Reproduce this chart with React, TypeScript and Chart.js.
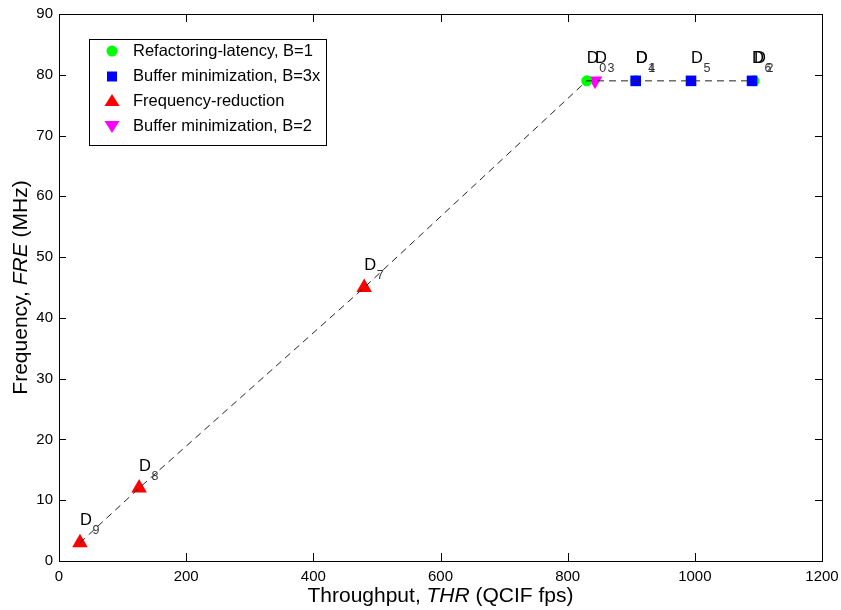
import React, { useEffect, useRef } from 'react';
import { Chart, registerables } from 'chart.js';

Chart.register(...registerables);

// Dashed trade-off curve through all design points (throughput in QCIF fps, frequency in MHz)
const pathThr = [33, 126, 480, 830, 843, 907, 994, 1090];
const pathFreq = [3, 12, 45, 79, 79, 79, 79, 79];

// Refactoring-latency, B=1
const refactorThr = [830, 907, 1093];
const refactorFreq = [79, 79, 79];
const refactorIds = ['0', '1', '2'];

// Buffer minimization, B=3x
const bufferThr = [907, 994, 1090];
const bufferFreq = [79, 79, 79];
const bufferIds = ['4', '5', '6'];

// Frequency-reduction
const freqRedThr = [33, 126, 480];
const freqRedFreq = [3, 12, 45];
const freqRedIds = ['9', '8', '7'];

// Buffer minimization, B=2
const buffer2Thr = [843];
const buffer2Freq = [79];
const buffer2Ids = ['3'];

const seriesNames = [
  'Refactoring-latency, B=1',
  'Buffer minimization, B=3x',
  'Frequency-reduction',
  'Buffer minimization, B=2',
];

const xTicks = [0, 200, 400, 600, 800, 1000, 1200];
const yTicks = [0, 10, 20, 30, 40, 50, 60, 70, 80, 90];

const FONT = '"Liberation Sans", Arial, Helvetica, sans-serif';

const toPoints = (xs: number[], ys: number[]) => xs.map((x, i) => ({ x, y: ys[i] }));

function drawMarker(ctx: CanvasRenderingContext2D, kind: string, x: number, y: number, color: string) {
  ctx.save();
  ctx.fillStyle = color;
  ctx.beginPath();
  if (kind === 'circle') {
    ctx.arc(x, y, 5.5, 0, Math.PI * 2);
  } else if (kind === 'rect') {
    ctx.rect(x - 5, y - 5, 10, 10);
  } else if (kind === 'up') {
    ctx.moveTo(x, y - 7);
    ctx.lineTo(x + 7.5, y + 5);
    ctx.lineTo(x - 7.5, y + 5);
    ctx.closePath();
  } else {
    ctx.moveTo(x, y + 7);
    ctx.lineTo(x + 7.5, y - 5);
    ctx.lineTo(x - 7.5, y - 5);
    ctx.closePath();
  }
  ctx.fill();
  ctx.restore();
}

const decorations = {
  id: 'decorations',
  afterDraw(chart: any) {
    const { ctx, chartArea: a, scales } = chart;
    const xs = scales.x;
    const ys = scales.y;
    ctx.save();

    // axes box with inward ticks on all four sides
    ctx.strokeStyle = '#000';
    ctx.lineWidth = 1;
    ctx.strokeRect(Math.round(a.left) + 0.5, Math.round(a.top) + 0.5, Math.round(a.right - a.left), Math.round(a.bottom - a.top));
    ctx.beginPath();
    xTicks.forEach((v) => {
      const px = Math.round(xs.getPixelForValue(v)) + 0.5;
      ctx.moveTo(px, a.bottom);
      ctx.lineTo(px, a.bottom - 8);
      ctx.moveTo(px, a.top);
      ctx.lineTo(px, a.top + 8);
    });
    yTicks.forEach((v) => {
      const py = Math.round(ys.getPixelForValue(v)) + 0.5;
      ctx.moveTo(a.left, py);
      ctx.lineTo(a.left + 7, py);
      ctx.moveTo(a.right, py);
      ctx.lineTo(a.right - 7, py);
    });
    ctx.stroke();

    // design point labels D with subscript index
    const labelSets: [number[], number[], string[]][] = [
      [refactorThr, refactorFreq, refactorIds],
      [bufferThr, bufferFreq, bufferIds],
      [freqRedThr, freqRedFreq, freqRedIds],
      [buffer2Thr, buffer2Freq, buffer2Ids],
    ];
    ctx.textAlign = 'left';
    ctx.textBaseline = 'middle';
    labelSets.forEach(([tx, ty, ids]) => {
      tx.forEach((t, i) => {
        const px = xs.getPixelForValue(t);
        const py = ys.getPixelForValue(ty[i]);
        ctx.fillStyle = '#000';
        ctx.font = `16.5px ${FONT}`;
        ctx.fillText('D', px, py - 22);
        ctx.fillStyle = '#333';
        ctx.font = `12.5px ${FONT}`;
        ctx.fillText(ids[i], px + 12.5, py - 12);
      });
    });

    // legend box
    ctx.fillStyle = '#fff';
    ctx.fillRect(90, 40, 236, 105);
    ctx.strokeStyle = '#000';
    ctx.strokeRect(89.5, 39.5, 237, 106);
    const kinds = ['circle', 'rect', 'up', 'down'];
    const colors = ['#00ff00', '#0000ff', '#ff0000', '#ff00ff'];
    const rowY = [51, 76.5, 101, 126];
    seriesNames.forEach((name, i) => {
      drawMarker(ctx, kinds[i], 112, rowY[i], colors[i]);
      ctx.fillStyle = '#000';
      ctx.font = `16.5px ${FONT}`;
      ctx.textAlign = 'left';
      ctx.textBaseline = 'middle';
      ctx.fillText(name, 133, rowY[i]);
    });

    // axis titles with italic symbols
    const drawRich = (parts: [string, boolean][], cx: number, cy: number) => {
      const size = 21;
      const fonts = parts.map(([, it]) => `${it ? 'italic ' : ''}${size}px ${FONT}`);
      let total = 0;
      const widths = parts.map(([t], i) => {
        ctx.font = fonts[i];
        const w = ctx.measureText(t).width;
        total += w;
        return w;
      });
      let x = cx - total / 2;
      ctx.textAlign = 'left';
      ctx.textBaseline = 'middle';
      ctx.fillStyle = '#000';
      parts.forEach(([t], i) => {
        ctx.font = fonts[i];
        ctx.fillText(t, x, cy);
        x += widths[i];
      });
    };
    drawRich([['Throughput, ', false], ['THR', true], [' (QCIF fps)', false]], (a.left + a.right) / 2, 596);
    ctx.save();
    ctx.translate(21, (a.top + a.bottom) / 2);
    ctx.rotate(-Math.PI / 2);
    drawRich([['Frequency, ', false], ['FRE', true], [' (MHz)', false]], 0, 0);
    ctx.restore();

    ctx.restore();
  },
};

export default function App() {
  const ref = useRef<HTMLCanvasElement>(null);

  useEffect(() => {
    const canvas = ref.current;
    if (!canvas) return;
    const chart = new Chart(canvas, {
      type: 'scatter',
      data: {
        datasets: [
          {
            label: 'path',
            type: 'line',
            data: toPoints(pathThr, pathFreq),
            borderColor: '#222',
            borderWidth: 1,
            borderDash: [7, 5],
            pointRadius: 0,
            fill: false,
            tension: 0,
            order: 0,
          },
          {
            label: seriesNames[1],
            data: toPoints(bufferThr, bufferFreq),
            pointStyle: 'rect',
            pointRadius: 7.5,
            backgroundColor: '#0000ff',
            borderColor: '#0000ff',
            borderWidth: 0,
            order: 1,
          },
          {
            label: seriesNames[2],
            data: toPoints(freqRedThr, freqRedFreq),
            pointStyle: 'triangle',
            pointRadius: 9,
            backgroundColor: '#ff0000',
            borderColor: '#ff0000',
            borderWidth: 0,
            order: 2,
          },
          {
            label: seriesNames[0],
            data: toPoints(refactorThr, refactorFreq),
            pointStyle: 'circle',
            pointRadius: 5.5,
            backgroundColor: '#00ff00',
            borderColor: '#00ff00',
            borderWidth: 0,
            order: 3,
          },
          {
            label: seriesNames[3],
            data: toPoints(buffer2Thr, buffer2Freq),
            pointStyle: 'triangle',
            rotation: 180,
            pointRadius: 8.5,
            backgroundColor: '#ff00ff',
            borderColor: '#ff00ff',
            borderWidth: 0,
            order: 4,
          },
        ],
      },
      options: {
        animation: false,
        responsive: false,
        layout: { padding: { top: 14, right: 19, left: 0, bottom: 0 } },
        plugins: { legend: { display: false }, tooltip: { enabled: false } },
        scales: {
          x: {
            type: 'linear',
            min: 0,
            max: 1200,
            afterBuildTicks: (s: any) => {
              s.ticks = xTicks.map((v) => ({ value: v }));
            },
            afterFit: (s: any) => {
              s.height = 49;
              s.paddingLeft = 0;
              s.paddingRight = 0;
            },
            grid: { display: false, drawTicks: false },
            border: { display: false },
            ticks: {
              color: '#000',
              padding: 7,
              font: { family: FONT, size: 15 },
              maxRotation: 0,
              callback: (v: any) => String(v),
            },
          },
          y: {
            type: 'linear',
            min: 0,
            max: 90,
            afterBuildTicks: (s: any) => {
              s.ticks = yTicks.map((v) => ({ value: v }));
            },
            afterFit: (s: any) => {
              s.width = 59;
              s.paddingTop = 0;
              s.paddingBottom = 0;
            },
            grid: { display: false, drawTicks: false },
            border: { display: false },
            ticks: { color: '#000', padding: 6, font: { family: FONT, size: 15 }, callback: (v: any) => String(v) },
          },
        },
      },
      plugins: [decorations],
    });
    return () => chart.destroy();
  }, []);

  return (
    <div style={{ position: 'absolute', left: 0, top: 0, width: 841, height: 610, background: '#fff' }}>
      <canvas ref={ref} width={841} height={610} style={{ display: 'block' }} />
    </div>
  );
}
